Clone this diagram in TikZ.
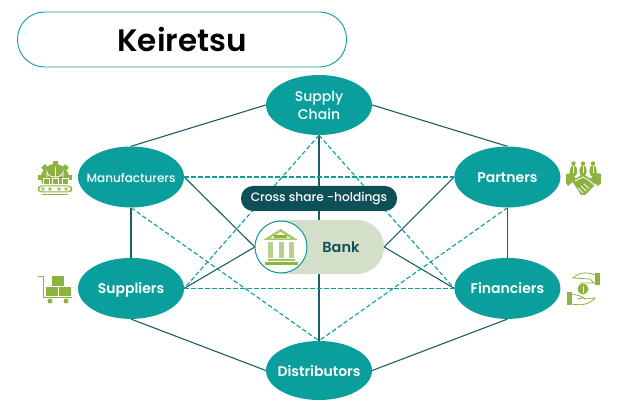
\documentclass[tikz,border=0pt]{standalone}
\usepackage{fontspec}
\setmainfont{Poppins}[BoldFont={Poppins SemiBold}]
\newfontfamily\popmed{Poppins Medium}
\usepackage{xcolor}
\usepackage{tikz}
\usetikzlibrary{
  shapes.geometric,
  positioning,
  backgrounds
}
\definecolor{kTeal}{HTML}{0A9E9C}
\definecolor{kDark}{HTML}{0F4F57}
\definecolor{kLine}{HTML}{1B5E66}
\definecolor{kGreen}{HTML}{8CB33F}
\definecolor{kPale}{HTML}{D3DFC8}
\tikzset{
  party/.style={
    draw=none, ellipse, fill=kTeal, text=white, minimum width=106pt, minimum height=61pt,
    inner sep=-15pt, align=center, text height=13pt, text depth=2pt, font=\fontsize{14}{18}\selectfont\bfseries
  },
  titlebox/.style={
    draw=kTeal, fill=white, line width=0.9pt, rounded corners=27pt, minimum width=329pt, minimum height=55pt,
    font=\fontsize{31}{36}\selectfont\bfseries
  },
  sharebox/.style={
    fill=kDark, text=white, rounded corners=12pt, minimum width=156pt, minimum height=25pt,
    inner sep=0pt, font=\fontsize{12.2}{14}\selectfont\popmed
  },
  bankbox/.style={
    fill=kPale, text=kDark, rounded corners=27pt, minimum width=129pt, minimum height=54pt,
    inner sep=0pt, font=\fontsize{14.5}{16}\selectfont\bfseries
  },
  bankring/.style={
    circle, draw=kTeal, fill=white, line width=1pt, minimum size=52pt, inner sep=0pt
  },
  solidlink/.style={line width=1.1pt, kLine},
  crosslink/.style={line width=1.1pt, kTeal, dash pattern=on 4.5pt off 2.5pt},
  iconfill/.style={fill=kGreen, draw=none},
  iconline/.style={draw=kGreen, line width=1pt},
  iconcut/.style={draw=white, line width=0.8pt}
}
\begin{document}
\begin{tikzpicture}[x=1pt,y=-1pt]
  \useasboundingbox (0,0) rectangle (628,411);
  \node[titlebox] (title) at (182,39.5) {Keiretsu};
  \node[party, font=\fontsize{12}{14}\selectfont\popmed] (mf) at (131,177) {Manufacturers};
  \node[party, below=50pt of mf] (sp) {Suppliers};
  \node[party, right=270pt of mf] (pt) {Partners};
  \node[party, below=50pt of pt] (fn) {Financiers};
  \node[party, minimum height=60pt, text height=, text depth=, font=\fontsize{14}{18}\selectfont\popmed] (sc) at (319,105) {Supply\\Chain};
  \node[party, minimum height=59pt] (ds) at (319,370.5) {Distributors};
  \node[bankbox] (bk) at (319.5,247) {\hspace{43pt}Bank};
  \node[sharebox] (cs) at (319,198.5) {Cross share -holdings};
  \node[bankring] (ring) at (281,247) {};
  \begin{scope}[on background layer]
    % outer ring
    \draw[solidlink] (sc.west) -- (mf.north);
    \draw[solidlink] (sc.east) -- (pt.north);
    \draw[solidlink] (mf.south) -- (sp.north);
    \draw[solidlink] (pt.south) -- (fn.north);
    \draw[solidlink] (sp.south) -- (ds.west);
    \draw[solidlink] (fn.south) -- (ds.east);
    \draw[solidlink] (sc.south) -- (ds.north);
    % to the bank
    \draw[solidlink] (mf.east) -- (bk.west);
    \draw[solidlink] (sp.east) -- (bk.west);
    \draw[solidlink] (pt.west) -- (bk.east);
    \draw[solidlink] (fn.west) -- (bk.east);
    % cross holdings
    \draw[crosslink] (mf.east) -- (pt.west);
    \draw[crosslink] (sp.east) -- (fn.west);
    \draw[crosslink] (sc.south) -- (sp.east);
    \draw[crosslink] (sc.south) -- (fn.west);
    \draw[crosslink] (mf.south) -- (ds.north);
    \draw[crosslink] (pt.south) -- (ds.north);
  \end{scope}
  % bank icon
  \fill[kGreen!75] (280.5,229) -- (298,240) -- (263,240) -- cycle;
  \fill[white] (280.5,232) -- (291,238.5) -- (270,238.5) -- cycle;
  \fill[kGreen] (274,235) rectangle (287,238);
  \foreach \x in {270,281,291} {
    \fill[kGreen!60] (\x-2.5,242) rectangle (\x+2.5,258);
  }
  \fill[kGreen!80] (268,259) rectangle (295,261);
  \fill[kGreen] (265,262) rectangle (298,265);
  % manufacturers icon
  \fill[iconfill] (55,178) circle (14pt);
  \foreach \a in {0,45,...,315} {
    \fill[iconfill, shift={(55,178)}, rotate=\a] (-2.5,-17) rectangle (2.5,-12);
  }
  \fill[white] (36,184) rectangle (74,197);
  \draw[iconcut] (47,177) -- (47,172) arc[start angle=180, end angle=360, x radius=8pt, y radius=5pt] -- (63,177);
  \draw[iconcut] (55,167) -- (55,177);
  \foreach \x in {43,52,62} {
    \fill[iconfill] (\x,178) rectangle (\x+6,184);
    \draw[iconcut, line width=0.5pt] (\x,178) rectangle (\x+6,184);
  }
  \draw[iconline, rounded corners=3.5pt] (38.5,186) rectangle (71.5,192);
  \foreach \x in {43,50,59,66} {
    \draw[draw=kGreen, line width=0.7pt] (\x,189) circle (1.3pt);
  }
  \draw[iconline] (42,194.5) -- (68,194.5);
  % suppliers icon
  \draw[iconline] (38,276) -- (43.5,276) -- (43.5,297) -- (72,297);
  \fill[iconfill] (52,276) rectangle (64,286);
  \fill[iconfill] (46,287) rectangle (57.5,296);
  \fill[iconfill] (58.5,287) rectangle (71,296);
  \fill[iconfill] (50,301) circle (2.5pt);
  \fill[iconfill] (66,301) circle (2.5pt);
  % partners icon
  \foreach \x in {573.5,583,593} {
    \fill[iconfill] (\x,163.5) circle (2.2pt);
    \fill[iconfill] (\x,171) ellipse (3.6pt and 6pt);
    \fill[white] (\x-0.5,166) rectangle (\x+0.5,173);
  }
  \fill[iconfill] (566,174) -- (571,173) -- (576,179) -- (568,186) -- (566,183) -- cycle;
  \fill[iconfill] (601,174) -- (596,173) -- (590,179) -- (598,186) -- (601,183) -- cycle;
  \fill[iconfill] (572,181) -- (583,174) -- (594,181) -- (595,185) -- (585,195) -- (581,195) -- cycle;
  \draw[iconcut] (575,181) -- (583,177) -- (590,181) -- (596,187);
  \draw[iconcut] (578,188) -- (583,193);
  \draw[iconcut] (581,186) -- (586,191);
  \draw[iconcut] (584,184) -- (589,188.5);
  % financiers icon
  \fill[iconfill] (595,273) rectangle (600,285);
  \draw[draw=kGreen, line width=0.8pt] (595,275) .. controls (585,271) and (578,273) .. (573,278)
    -- (590,279) -- (594,283) -- (580,283);
  \fill[iconfill] (583,289) circle (5.5pt);
  \draw[draw=white, line width=0.7pt] (583,285.5) -- (583,292.5);
  \fill[iconfill] (566.5,292) rectangle (572,305);
  \draw[draw=kGreen, line width=0.8pt] (572,294) -- (580,296) -- (584,298) -- (577,299)
    (572,304) .. controls (582,306) and (590,304) .. (595,298) -- (584,299);
\end{tikzpicture}
\end{document}
